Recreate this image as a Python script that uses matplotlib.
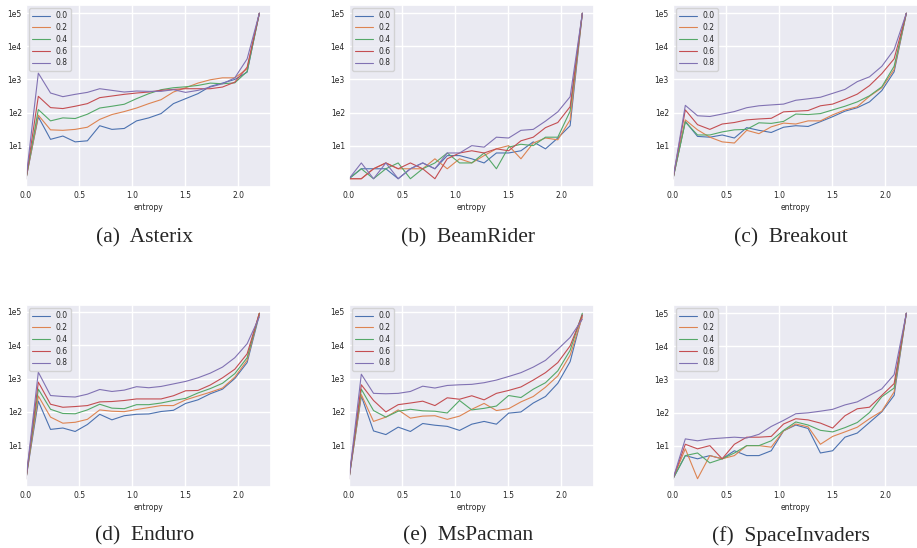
import matplotlib
matplotlib.use("Agg")
import matplotlib.pyplot as plt
import seaborn as sns

sns.set_theme(style="darkgrid")
plt.rcParams['font.family'] = ['DejaVu Sans']

entropy = [0.0, 0.116, 0.231, 0.347, 0.463, 0.578, 0.694, 0.809, 0.925, 1.041,
           1.156, 1.272, 1.388, 1.503, 1.619, 1.735, 1.850, 1.966, 2.082, 2.197]
levels = ["0.0", "0.2", "0.4", "0.6", "0.8"]

asterix = [
    [1, 74, 15.5, 19.5, 13, 14, 40, 31, 33, 56, 69, 93, 186, 263, 372, 617, 776, 1000, 1660, 1e5],
    [1, 83, 30, 29, 31, 36, 62, 87, 107, 137, 186, 245, 417, 562, 776, 977, 1120, 1120, 2090, 1e5],
    [1, 123, 56, 69, 66, 89, 137, 155, 178, 263, 372, 490, 562, 600, 660, 776, 740, 790, 1740, 1e5],
    [1, 309, 141, 132, 155, 186, 282, 316, 355, 389, 417, 468, 500, 525, 525, 525, 590, 830, 2340, 1e5],
    [1, 1550, 389, 302, 355, 407, 525, 468, 417, 447, 437, 437, 490, 407, 468, 590, 740, 1120, 4170, 1e5],
]
beamrider = [
    [1, 2, 2, 2, 1, 2, 3, 2, 5, 5, 4, 3, 6, 6, 7, 13, 8, 17, 40, 1e5],
    [1, 1, 2, 3, 2, 2, 2, 4, 2, 4, 3, 5, 8, 10, 4, 12, 17, 15, 60, 1e5],
    [1, 2, 1, 2, 3, 1, 2, 3, 6, 3, 3, 6, 2, 9, 11, 10, 18, 18, 110, 1e5],
    [1, 1, 2, 3, 2, 3, 2, 1, 4, 6, 7, 6, 8, 7, 14, 18, 35, 50, 150, 1e5],
    [1, 3, 1, 3, 1, 2, 3, 2, 6, 6, 10, 9, 18, 17, 29, 31, 55, 105, 300, 1e5],
]
breakout = [
    [1, 54, 19, 18, 21, 17, 35, 29, 25, 36, 40, 38, 53, 75, 110, 140, 210, 460, 1700, 1e5],
    [1, 60, 30, 18, 13, 12, 29, 23, 37, 48, 45, 56, 56, 85, 120, 150, 310, 560, 2000, 1e5],
    [1, 52, 21, 21, 26, 30, 31, 49, 47, 54, 90, 87, 93, 120, 155, 210, 320, 600, 2500, 1e5],
    [1, 120, 43, 31, 45, 50, 60, 64, 67, 105, 110, 115, 160, 180, 250, 360, 650, 1500, 4200, 1e5],
    [1, 165, 80, 76, 90, 107, 140, 160, 170, 180, 235, 260, 290, 380, 500, 860, 1200, 2500, 8000, 1e5],
]
enduro = [
    [1, 210, 30, 33, 26, 42, 85, 58, 77, 85, 87, 103, 112, 180, 230, 350, 480, 1000, 3000, 8e4],
    [1, 300, 70, 46, 49, 60, 115, 105, 102, 118, 135, 155, 155, 230, 300, 390, 520, 1100, 3500, 9e4],
    [1, 480, 120, 90, 88, 115, 170, 130, 125, 165, 165, 185, 220, 255, 370, 500, 720, 1400, 4200, 9e4],
    [1, 780, 170, 138, 145, 155, 200, 205, 220, 245, 245, 245, 305, 430, 440, 640, 1050, 1900, 5500, 9e4],
    [1, 1550, 310, 290, 280, 340, 470, 410, 450, 570, 530, 580, 690, 820, 1050, 1450, 2200, 4200, 11000, 7e4],
]
mspacman = [
    [1, 300, 27, 21, 35, 26, 45, 40, 37, 28, 43, 52, 43, 92, 100, 185, 290, 720, 3200, 8e4],
    [1, 330, 52, 70, 115, 65, 75, 77, 60, 75, 120, 180, 110, 125, 200, 290, 550, 1200, 5000, 7e4],
    [1, 480, 110, 70, 105, 120, 108, 105, 93, 220, 115, 128, 150, 310, 270, 480, 750, 1700, 7000, 9e4],
    [1, 650, 220, 100, 165, 185, 210, 155, 265, 240, 305, 230, 360, 440, 560, 900, 1500, 3000, 9500, 8e4],
    [1, 1350, 360, 350, 360, 410, 590, 520, 620, 650, 670, 750, 900, 1150, 1500, 2200, 3500, 7500, 17000, 6e4],
]
spaceinvaders = [
    [1, 5, 4, 5, 4, 7, 5, 5, 7, 28, 42, 33, 6, 7, 18, 24, 50, 105, 330, 1e5],
    [1, 8, 1, 5, 4, 5, 10, 10, 9, 28, 45, 37, 11, 19, 26, 36, 65, 110, 420, 1e5],
    [1, 5, 6, 3, 4, 6, 10, 10, 14, 29, 52, 42, 29, 26, 35, 50, 100, 300, 550, 1e5],
    [1, 11, 8, 10, 4, 11, 18, 18, 19, 45, 65, 60, 48, 34, 80, 130, 145, 330, 750, 1e5],
    [1, 16, 14, 16, 17, 18, 17, 22, 38, 58, 92, 98, 110, 125, 170, 210, 330, 520, 1400, 1e5],
]

games = [asterix, beamrider, breakout, enduro, mspacman, spaceinvaders]
captions = ["(a)  Asterix", "(b)  BeamRider", "(c)  Breakout",
            "(d)  Enduro", "(e)  MsPacman", "(f)  SpaceInvaders"]
ytick_vals = [1e1, 1e2, 1e3, 1e4, 1e5]
ytick_labels = ["1e1", "1e2", "1e3", "1e4", "1e5"]

W, H = 917, 548
fig = plt.figure(figsize=(W / 100, H / 100), dpi=100)
lefts = [26, 349, 673]
tops = [5, 305]
aw, ah = 245, 182
cap_x = [145, 468, 791]
cap_y = [238, 536]
colors = sns.color_palette("deep")
fs = 5.5

for i, data in enumerate(games):
    r, c = divmod(i, 3)
    ax = fig.add_axes([lefts[c] / W, 1 - (tops[r] + ah) / H, aw / W, ah / H])
    for k, series in enumerate(data):
        ax.plot(entropy, series, color=colors[k], lw=0.8, label=levels[k])
    ax.set_yscale("log")
    ax.set_xlim(left=0)
    ax.set_yticks(ytick_vals)
    ax.set_yticklabels(ytick_labels)
    ax.yaxis.set_minor_locator(matplotlib.ticker.NullLocator())
    ax.tick_params(labelsize=fs, pad=3, length=0)
    ax.set_xlabel("entropy", fontsize=fs, labelpad=2)
    ax.legend(loc="upper left", fontsize=fs, handlelength=2.3, borderpad=0.45,
              labelspacing=0.35, handletextpad=0.7, borderaxespad=0.4)
    fig.text(cap_x[c] / W, 1 - cap_y[r] / H, captions[i], ha="center", va="center",
             fontsize=15.5, family="Liberation Serif")

fig.savefig("out.png", dpi=100)
